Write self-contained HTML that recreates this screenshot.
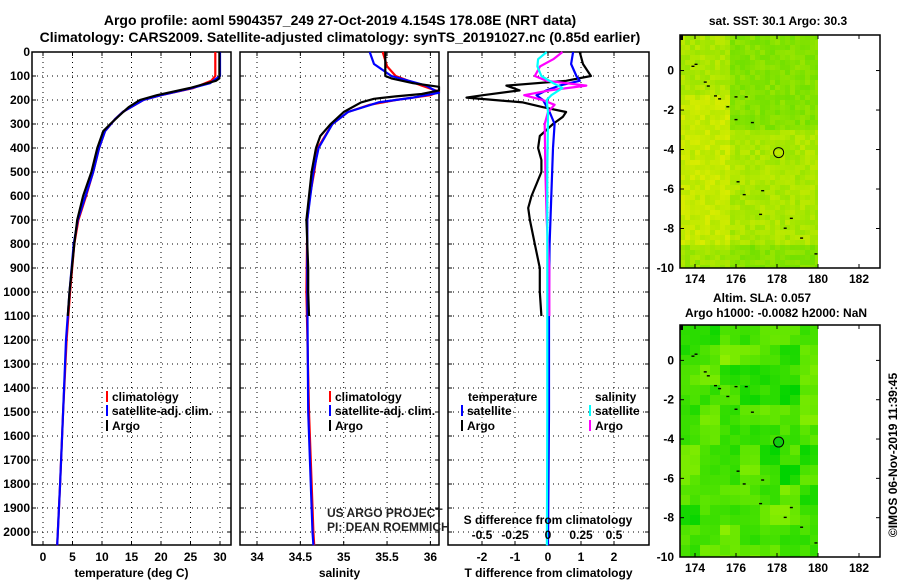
<!DOCTYPE html>
<html><head><meta charset="utf-8"><style>
body{margin:0;background:#fff;}
svg{display:block;font-family:"Liberation Sans",sans-serif;}
.t{font-weight:bold;font-size:12px;fill:#000;}
.h{font-weight:bold;font-size:14px;fill:#000;}
</style></head><body>
<svg id="c" width="900" height="580" viewBox="0 0 900 580">
<text class="h" x="340" y="25" text-anchor="middle">Argo profile: aoml 5904357_249 27-Oct-2019 4.154S 178.08E (NRT data)</text>
<text class="h" x="340" y="42" text-anchor="middle">Climatology: CARS2009. Satellite-adjusted climatology: synTS_20191027.nc (0.85d earlier)</text>
<g id="g"></g>
</svg>
<script>
// ---- data ----
const depthTicks=[0,100,200,300,400,500,600,700,800,900,1000,1100,1200,1300,1400,1500,1600,1700,1800,1900,2000];
const tempTicks=[0,5,10,15,20,25,30];
const salTicks=[34,34.5,35,35.5,36];
const dTTicks=[-2,-1,0,1,2];
const dSTicks=[-0.5,-0.25,0,0.25,0.5];
const tDepthClim=[0,100,120,150,180,200,250,280,330,400,500,600,700,800,1000,1200,1500,1800,2055];
const tempClim=[29.2,29.2,28.5,25.5,20,17,13.5,12.2,10.5,9.5,8.5,7.3,6.0,5.3,4.6,4.0,3.4,2.9,2.4];
const tDepthSat=[0,100,130,150,180,200,250,280,330,400,500,600,700,800,1000,1200,1500,1800,2055];
const tempSat=[30.0,30.0,28.3,25.3,20,17,13.5,12.2,10.5,9.5,8.5,7.2,5.9,5.2,4.5,3.9,3.4,2.9,2.4];
const tDepthArgo=[0,110,120,150,180,200,230,250,300,330,400,500,600,700,800,900,1000,1100];
const tempArgo=[29.9,29.9,29.3,24.9,19.3,16.4,14.5,13.6,11.4,10.2,9.2,8.2,6.8,5.8,5.3,4.9,4.5,4.2];
const sDepthClim=[0,60,100,140,165,180,200,220,250,300,400,500,600,700,1000,1500,2000,2055];
const salClim=[35.45,35.5,35.6,35.9,36.1,36.0,35.6,35.3,35.05,34.87,34.7,34.66,34.61,34.58,34.57,34.6,34.65,34.66];
const sDepthSat=[0,50,100,140,170,190,210,250,300,400,500,700,1000,1500,2000,2055];
const salSat=[35.3,35.35,35.55,35.95,36.15,35.8,35.4,35.05,34.87,34.71,34.65,34.58,34.58,34.59,34.64,34.65];
const sDepthArgo=[0,100,110,130,145,160,175,185,195,210,250,300,350,400,500,600,700,800,900,1000,1100];
const salArgo=[35.48,35.48,35.55,35.8,36.15,36.1,35.9,35.6,35.35,35.2,35.0,34.85,34.73,34.68,34.63,34.6,34.57,34.58,34.59,34.59,34.6];
const dDepthArgoT=[0,50,100,120,140,160,180,190,210,230,250,270,300,350,400,450,500,550,600,650,700,800,900,1000,1100];
const dTArgo=[0.96,1.06,1.3,0.55,-1.26,-0.86,-1.97,-2.47,-0.76,-0.15,0.55,0.45,0.15,-0.25,-0.3,-0.2,-0.2,-0.35,-0.5,-0.6,-0.55,-0.4,-0.25,-0.25,-0.2];
const dDepthSatT=[0,50,100,120,140,160,180,200,250,300,400,600,800,1000,1500,2055];
const dTSat=[0.76,0.7,0.86,0.96,0.35,-0.05,-0.35,-0.15,0.05,0.2,0.15,0.1,0.05,0.03,0.03,0.0];
const dDepthArgoS=[0,30,60,100,120,140,160,180,200,220,250,300,500,700,900,1100];
const dSArgo=[0.11,0.04,-0.06,-0.1,-0.01,0.29,0.01,-0.18,-0.04,0.05,0.0,-0.025,-0.02,-0.01,0.01,0.01];
const dDepthSatS=[0,30,60,100,130,150,180,200,250,500,1000,1500,2055];
const dSSat=[-0.01,-0.075,-0.08,-0.05,0.04,0.11,0.025,-0.01,0.0,-0.005,-0.005,-0.005,-0.008];
const lonTicks=[174,176,178,180,182];
const latTicks=[0,-2,-4,-6,-8,-10];
const floatLon=178.08, floatLat=-4.154;
const coastLon=[173.9,174.05,174.5,174.65,175.0,175.2,175.6,176.0,176.5,176.8,176.0,176.1,176.4,177.3,177.2,178.4,178.7,179.2,179.9];
const coastLat=[0.2,0.3,-0.6,-0.8,-1.3,-1.45,-1.85,-1.35,-1.35,-2.65,-2.5,-5.65,-6.3,-6.1,-7.3,-8.0,-7.5,-8.5,-9.3];

const NS='http://www.w3.org/2000/svg';
const G=document.getElementById('g');
function mk(tag,attrs,parent){const e=document.createElementNS(NS,tag);for(const k in attrs)e.setAttribute(k,attrs[k]);(parent||G).appendChild(e);return e;}
function txt(x,y,s,cls,anchor,parent){const e=mk('text',{x:x,y:y,class:cls||'t','text-anchor':anchor||'start'},parent);e.textContent=s;return e;}
const Y=d=>52+d*0.24;
const PB=545;
const xT=t=>43+t*5.9;
const xS=s=>257+(s-34)*86.7;
const xD=v=>548+v*33;
const xDS=v=>548+v*132;

function panel(name,x0,x1,xt,ticks,fmt,xlabel){
  const p=mk('g',{});
  
  
  for(const d of depthTicks){mk('line',{x1:x0,x2:x1,y1:Y(d),y2:Y(d),stroke:'#000','stroke-width':1,'stroke-dasharray':'1 4'},p);
    mk('line',{x1:x0,x2:x0+4,y1:Y(d),y2:Y(d),stroke:'#000'},p);mk('line',{x1:x1-4,x2:x1,y1:Y(d),y2:Y(d),stroke:'#000'},p);}
  for(const t of ticks){const x=xt(t);mk('line',{x1:x,x2:x,y1:52,y2:PB,stroke:'#000','stroke-width':1,'stroke-dasharray':'1 4'},p);
    mk('line',{x1:x,x2:x,y1:PB-4,y2:PB,stroke:'#000'},p);mk('line',{x1:x,x2:x,y1:52,y2:56,stroke:'#000'},p);
    txt(x,561,fmt(t),'t','middle',p);}
  mk('rect',{x:x0,y:52,width:x1-x0,height:PB-52,fill:'none',stroke:'#000','stroke-width':1.5},p);
  txt((x0+x1)/2,577,xlabel,'t','middle',p);
  return p;
}
function line(xs,ds,xf,color,name,w){
  const pts=xs.map((v,i)=>xf(v).toFixed(1)+','+Y(ds[i]).toFixed(1)).join(' ');
  const e=mk('polyline',{points:pts,fill:'none',stroke:color,'stroke-width':w||2.2,'stroke-linejoin':'round'});
  
  
}
for(const d of depthTicks){txt(30,Y(d)+4,String(d),'t','end');}
panel('temperature-panel',32,231,xT,tempTicks,String,'temperature (deg C)');
panel('salinity-panel',240,439,xS,salTicks,String,'salinity');
panel('difference-panel',448,649,xD,dTTicks,String,'T difference from climatology');
line(tempClim,tDepthClim,xT,'#f00','temp-climatology-line');
line(tempSat,tDepthSat,xT,'#00f','temp-satellite-line');
line(tempArgo,tDepthArgo,xT,'#000','temp-argo-line');
function cline(xs,ds,xf,color,name){line(xs,ds,v=>Math.min(439,xf(v)),color,name);}
cline(salClim,sDepthClim,xS,'#f00','sal-climatology-line');
cline(salSat,sDepthSat,xS,'#00f','sal-satellite-line');
cline(salArgo,sDepthArgo,xS,'#000','sal-argo-line');
line(dTArgo,dDepthArgoT,xD,'#000','tdiff-argo-line');
line(dTSat,dDepthSatT,xD,'#00f','tdiff-satellite-line');
line(dSArgo,dDepthArgoS,xDS,'#f0f','sdiff-argo-line');
line(dSSat,dDepthSatS,xDS,'#0ff','sdiff-satellite-line');
txt(548,524,'S difference from climatology','t','middle');
for(const s of dSTicks){txt(xDS(s),539,String(s).replace('0.','.').replace('-.','-0.').replace(/^\./,'0.'),'t','middle');}
function leg(x,y,color,label,name){const g=mk('g',{});
  mk('rect',{x:x,y:y-10,width:2,height:11,fill:color},g);txt(x+6,y,label,'t','start',g);}
leg(106,401,'#f00','climatology','legend-climatology');
leg(106,415,'#00f','satellite-adj. clim.','legend-satellite');
leg(106,430,'#000','Argo','legend-argo');
leg(329,401,'#f00','climatology','legend-sal-climatology');
leg(329,415,'#00f','satellite-adj. clim.','legend-sal-satellite');
leg(329,430,'#000','Argo','legend-sal-argo');
txt(468,401,'temperature','t','start');txt(595,401,'salinity','t','start');
leg(461,415,'#00f','satellite','legend-tdiff-satellite');
leg(461,430,'#000','Argo','legend-tdiff-argo');
leg(589,415,'#0ff','satellite','legend-sdiff-satellite');
leg(589,430,'#f0f','Argo','legend-sdiff-argo');
txt(327,517,'US ARGO PROJECT','','start').setAttribute('style','font-size:12px;fill:#222');
txt(327,531,'PI: DEAN ROEMMICH','','start').setAttribute('style','font-size:12px;fill:#222');

// ---- maps ----
function hash(i,j,s){let h=(i*374761393+j*668265263+s*2147483647)|0;h=(h^(h>>>13))*1274126177|0;return ((h^(h>>>16))>>>0)/4294967295;}
function map(name,top,bottom,kind){
  const L=680,R=880, lx=lon=>695+(lon-174)*20.5;
  const ly=lat=>top+ (1.8-lat)*(bottom-top)/11.8;
  const g=mk('g',{});
  const xe=lx(180), cs=5;
  for(let y=top,j=0;y<bottom;y+=cs,j++){for(let x=L,i=0;x<xe;x+=cs,i++){
    let c;
    if(kind==='sst'){
      const lon=174+(x-695)/20.5, lat=1.8-(y-top)*11.8/(bottom-top);
      let gr=0.3+0.3*hash(i,j,1);
      if(lat>-3&&lon>175.5)gr+=0.3; if(lat<-8.6)gr+=0.3; if(lon<175.5&&lat<-1)gr-=0.2;
      gr=Math.max(0,Math.min(1,gr));
      let r=Math.round(230-130*gr), gg=Math.round(238-15*gr);
      c=`rgb(${r},${gg},0)`;
    } else {
      const bi=Math.floor(i/2),bj=Math.floor(j/2);
      const v=(hash(bi,bj,3)+hash(Math.floor(i/4),Math.floor(j/4),5)*2+hash(Math.floor(i/8),Math.floor(j/8),9))/4;
      const r=Math.round(v*160-10), gg=Math.round(210+v*30);
      c=`rgb(${Math.max(0,r)},${gg},0)`;
    }
    mk('rect',{x:x,y:y,width:Math.min(cs,xe-x),height:Math.min(cs,bottom-y),fill:c},g);
  }}
  for(let k=0;k<coastLon.length;k++){mk('rect',{x:lx(coastLon[k])-1.5,y:ly(coastLat[k])-1,width:3,height:1.4,fill:'#000'},g);}
  mk('rect',{x:L,y:top,width:3,height:5,fill:'#000'},g);
  mk('circle',{cx:lx(floatLon),cy:ly(floatLat),r:5,fill:kind==='sst'?'none':'#1c1','stroke':'#000','stroke-width':1},g);
  mk('rect',{x:L,y:top,width:R-L,height:bottom-top,fill:'none',stroke:'#000','stroke-width':1.5},g);
  for(const lo of lonTicks){const x=lx(lo);mk('line',{x1:x,x2:x,y1:bottom-4,y2:bottom,stroke:'#000'},g);mk('line',{x1:x,x2:x,y1:top,y2:top+4,stroke:'#000'},g);txt(x,bottom+15,String(lo),'t','middle',g);}
  for(const la of latTicks){const y=ly(la);mk('line',{x1:L,x2:L+4,y1:y,y2:y,stroke:'#000'},g);mk('line',{x1:R-4,x2:R,y1:y,y2:y,stroke:'#000'},g);txt(L-6,y+4,String(la),'t','end',g);}
}
map('sst-map',35,268,'sst');
map('sla-map',325,557,'sla');
txt(778,25,'sat. SST: 30.1 Argo: 30.3','t','middle');
txt(762,302,'Altim. SLA: 0.057','t','middle');
txt(776,317,'Argo h1000: -0.0082 h2000: NaN','t','middle');
const cr=txt(0,0,'©IMOS 06-Nov-2019 11:39:45','','middle');
cr.setAttribute('transform','translate(897,455) rotate(-90)');
cr.setAttribute('style','font-size:12px;fill:#000');


</script>
</body></html>
